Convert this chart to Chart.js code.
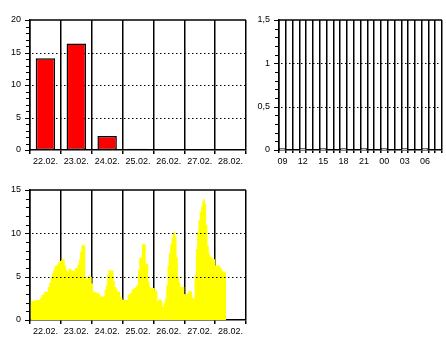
<!DOCTYPE html>
<html>
<head>
<meta charset="utf-8">
<script src="https://cdn.jsdelivr.net/npm/chart.js@4/dist/chart.umd.min.js"></script>
<style>
  body { margin: 0; background: #fff; }
  .box { position: absolute; }
</style>
</head>
<body>
<div class="box" style="left:0;top:0;width:250px;height:170px"><canvas id="rainDays"></canvas></div>
<div class="box" style="left:250px;top:0;width:196px;height:170px"><canvas id="rainHours"></canvas></div>
<div class="box" style="left:0;top:170px;width:250px;height:170px"><canvas id="windHours"></canvas></div>
<script>
// days on the x axis
const days = ["22.02.", "23.02.", "24.02.", "25.02.", "26.02.", "27.02.", "28.02."];
// daily sums (top left)
const dailyRain = [14.1, 16.4, 2.15, 0.2, 0, 0, 0];

// hours (top right)
const hours = ["09", "10", "11", "12", "13", "14", "15", "16", "17", "18", "19", "20",
  "21", "22", "23", "00", "01", "02", "03", "04", "05", "06", "07", "08"];
const hourlyRain = [0.02, null, null, 0.02, null, null, 0.02, null, null, 0.02, null, null,
  0.02, null, null, 0.02, null, null, 0.02, null, null, 0.02, null, null];

// hourly values per day (bottom)
const wind22 = [2.2, 2.2, 2.2, 2.2, 2.3, 2.3, 2.3, 2.3, 2.6, 2.9, 2.9, 3.3, 3.3, 3.3, 3.8, 4.3, 4.9, 5.4, 5.7, 6.2, 6.3, 6.4, 6.7, 6.8];
const wind23 = [6.9, 7.0, 7.0, 6.3, 5.8, 5.6, 5.9, 5.9, 5.7, 5.7, 5.7, 6.0, 6.0, 6.4, 7.0, 7.9, 8.7, 8.6, 8.6, 4.8, 4.8, 5.1, 5.1, 5.0];
const wind24 = [4.2, 3.3, 3.2, 3.2, 3.1, 3.1, 2.9, 2.7, 2.7, 2.7, 3.5, 4.0, 5.2, 5.8, 5.7, 5.7, 5.7, 4.5, 3.8, 3.6, 3.3, 3.3, 2.7, 2.5];
const wind25 = [2.3, 2.3, 2.3, 2.3, 2.9, 3.0, 3.1, 3.5, 3.6, 3.7, 3.9, 4.0, 5.8, 7.2, 7.2, 8.7, 8.8, 8.7, 6.5, 6.5, 4.4, 3.8, 3.7, 3.7];
const wind26 = [3.7, 3.4, 3.4, 2.2, 2.4, 2.4, 2.2, 1.5, 1.9, 2.5, 4.0, 6.3, 7.7, 8.7, 9.5, 10.1, 10.2, 9.6, 7.2, 5.0, 4.3, 3.8, 3.8, 3.8];
const wind27 = [3.0, 2.9, 3.1, 3.3, 3.4, 3.3, 2.6, 2.5, 5.2, 8.2, 10.2, 11.5, 12.5, 13.1, 13.8, 14.0, 13.4, 11.0, 8.6, 7.7, 7.3, 7.2, 7.0, 7.0];
const wind28 = [6.3, 6.3, 6.3, 6.3, 6.0, 5.7, 5.6, 5.5, 5.7];

const windValues = wind22.concat(wind23, wind24, wind25, wind26, wind27, wind28);
// one slot per hour for the whole week
const weekHours = [];
for (const d of days) {
  for (let h = 0; h < 24; h++) weekHours.push(d + h);
}

Chart.defaults.font.family = "'Liberation Sans', Arial, sans-serif";
Chart.defaults.font.size = 9;
Chart.defaults.color = "#000";

// dotted lines, top border and small ticks on the y axis
const frame = {
  id: "frame",
  beforeDatasetsDraw(chart, args, opts) {
    if (!opts.onTop) drawFrame(chart, opts);
  },
  afterDatasetsDraw(chart, args, opts) {
    if (opts.onTop) drawFrame(chart, opts);
  }
};

function drawFrame(chart, opts) {
  const ctx = chart.ctx;
  const a = chart.chartArea;
  const y = chart.scales.y;
  ctx.save();
  ctx.strokeStyle = "#000";
  ctx.lineWidth = 1.2;
  ctx.setLineDash([1.5, 2.5]);
  for (const v of opts.dotted) {
    const py = Math.round(y.getPixelForValue(v)) + 0.5;
    ctx.beginPath();
    ctx.moveTo(a.left + 2, py);
    ctx.lineTo(a.right, py);
    ctx.stroke();
  }
  ctx.setLineDash([]);
  ctx.lineWidth = 1.5;
  ctx.beginPath();
  ctx.moveTo(a.left, a.top);
  ctx.lineTo(a.right, a.top);
  ctx.stroke();
  const n = Math.round((y.max - y.min) / opts.minor);
  const every = Math.round(opts.major / opts.minor);
  ctx.lineWidth = 1;
  for (let i = 0; i <= n; i++) {
    const py = Math.round(y.getPixelForValue(y.min + i * opts.minor)) + 0.5;
    const len = i % every === 0 ? 5 : 4;
    ctx.beginPath();
    ctx.moveTo(a.left - len, py);
    ctx.lineTo(a.left, py);
    ctx.stroke();
  }
  ctx.restore();
}

function yAxis(max, step, fmt) {
  return {
    min: 0,
    max: max,
    z: 1,
    grid: { display: false, drawTicks: false },
    border: { color: "#000", width: 1.5 },
    ticks: { stepSize: step, padding: 9, callback: fmt },
    afterFit: s => { s.width = 30; }
  };
}

function dayAxis(extra) {
  return Object.assign({
    type: "category",
    labels: days,
    position: "bottom",
    offset: true,
    z: 1,
    grid: {
      offset: true,
      lineWidth: 1.5,
      tickLength: 4,
      color: c => c.index === days.length ? "rgba(0,0,0,0)" : "#000"
    },
    border: { color: "#000", width: 1.5 },
    ticks: { padding: 2, maxRotation: 0, autoSkip: false },
    afterFit: s => { s.height = 20; }
  }, extra || {});
}

// top left: daily bars
new Chart(document.getElementById("rainDays"), {
  type: "bar",
  data: {
    labels: days,
    datasets: [{
      data: dailyRain,
      backgroundColor: "#ff0000",
      borderColor: "#000",
      borderWidth: 1.5,
      borderSkipped: false,
      inflateAmount: 0,
      barPercentage: 0.63,
      categoryPercentage: 1
    }]
  },
  options: {
    responsive: true,
    maintainAspectRatio: false,
    animation: false,
    layout: { padding: { top: 20, right: 4, left: 0, bottom: 0 } },
    plugins: {
      legend: { display: false },
      tooltip: { enabled: false },
      frame: { dotted: [5, 10, 15], minor: 1, major: 5, onTop: false }
    },
    scales: {
      x: dayAxis({ labels: undefined, z: 0 }),
      y: yAxis(20, 5)
    }
  },
  plugins: [frame]
});

// top right: hourly bars
const hourAxis = dayAxis({ labels: undefined, z: 0 });
hourAxis.grid = { offset: true, lineWidth: 1.5, tickLength: 3, color: "#000" };
hourAxis.ticks = { padding: 3, maxRotation: 0, autoSkip: false, callback: (v, i) => i % 3 === 0 ? hours[i] : "" };
hourAxis.afterFit = s => { s.height = 20; };

new Chart(document.getElementById("rainHours"), {
  type: "bar",
  data: {
    labels: hours,
    datasets: [{
      data: hourlyRain,
      backgroundColor: "#fff",
      borderColor: "#000",
      borderWidth: 1,
      inflateAmount: 0,
      barPercentage: 1,
      categoryPercentage: 1
    }]
  },
  options: {
    responsive: true,
    maintainAspectRatio: false,
    animation: false,
    layout: { padding: { top: 20, right: 4, left: 0, bottom: 0 } },
    plugins: {
      legend: { display: false },
      tooltip: { enabled: false },
      frame: { dotted: [0.5, 1], minor: 0.1, major: 0.5, onTop: false }
    },
    scales: {
      x: hourAxis,
      y: Object.assign(yAxis(1.5, 0.5, v => String(v).replace(".", ",")), { afterFit: s => { s.width = 29; } })
    }
  },
  plugins: [frame]
});

// bottom: hourly area
new Chart(document.getElementById("windHours"), {
  type: "line",
  data: {
    labels: weekHours,
    datasets: [{
      data: windValues,
      xAxisID: "x",
      stepped: "middle",
      fill: "origin",
      backgroundColor: "#ffff00",
      borderWidth: 0,
      pointRadius: 0
    }]
  },
  options: {
    responsive: true,
    maintainAspectRatio: false,
    animation: false,
    layout: { padding: { top: 20, right: 4, left: 0, bottom: 0 } },
    plugins: {
      legend: { display: false },
      tooltip: { enabled: false },
      frame: { dotted: [5, 10], minor: 1, major: 5, onTop: true }
    },
    scales: {
      x: { type: "category", display: false, offset: true },
      x2: dayAxis(),
      y: yAxis(15, 5)
    }
  },
  plugins: [frame]
});
</script>
</body>
</html>
